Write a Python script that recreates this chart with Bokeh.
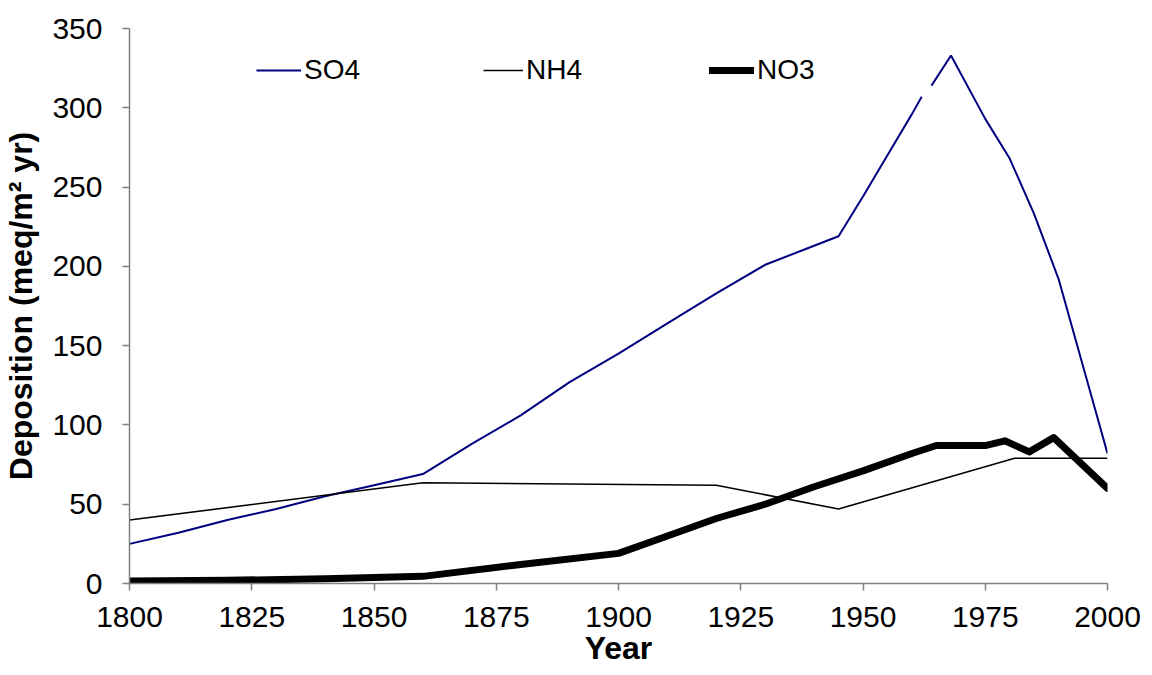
import math
from bokeh.plotting import figure
from bokeh.models import Range1d, SingleIntervalTicker, Legend, LegendItem
from bokeh.embed import file_html
from bokeh.resources import INLINE

# ---- data ----
so4_year = [1800, 1810, 1820, 1830, 1840, 1850, 1860, 1870, 1880, 1890, 1900,
            1910, 1920, 1930, 1940, 1945, 1950, 1955, 1960, 1962, 1963, 1964,
            1968, 1975, 1980, 1985, 1990, 1995, 2000]
so4_val = [25, 32, 40, 47, 55, 62, 69, 88, 106, 127, 145,
           164, 183, 201, 213, 219, 244, 270, 296, 307, float("nan"), 314,
           333, 293, 268, 233, 192, 137, 82]

nh4_year = [1800, 1860, 1920, 1945, 1981, 2000]
nh4_val = [40, 63.5, 62, 47, 79, 79]

no3_year = [1800, 1820, 1840, 1860, 1880, 1900, 1910, 1920, 1930, 1940, 1950,
            1960, 1965, 1975, 1979, 1984, 1989, 2000]
no3_val = [1.5, 2, 3, 4.5, 12, 19, 30, 41, 50, 61, 71,
           82, 87, 87, 90, 83, 92, 60]

series_names = ["SO4", "NH4", "NO3"]
x_title = "Year"
y_title = "Deposition (meq/m² yr)"
x_ticks_interval = 25
y_ticks_interval = 50

FONT = "Liberation Sans"

p = figure(width=1152, height=675, output_backend="svg", toolbar_location=None,
           x_range=Range1d(1800, 2000), y_range=Range1d(0, 350),
           min_border_left=128, min_border_right=45, min_border_top=28,
           min_border_bottom=92)
p.outline_line_color = None
p.xgrid.grid_line_color = None
p.ygrid.grid_line_color = None
p.background_fill_color = "white"
p.border_fill_color = "white"

p.xaxis.ticker = SingleIntervalTicker(interval=x_ticks_interval)
p.yaxis.ticker = SingleIntervalTicker(interval=y_ticks_interval)

for ax in (p.xaxis[0], p.yaxis[0]):
    ax.axis_line_color = "#808080"
    ax.axis_line_width = 1.5
    ax.major_tick_line_color = "#808080"
    ax.major_tick_line_width = 1.5
    ax.major_tick_in = 0
    ax.major_tick_out = 7
    ax.minor_tick_line_color = None
    ax.major_label_text_font = FONT
    ax.major_label_text_font_size = "30px"
    ax.major_label_text_color = "black"
    ax.axis_label_text_font = FONT
    ax.axis_label_text_font_size = "32px"
    ax.axis_label_text_font_style = "bold"
    ax.axis_label_text_color = "black"

p.xaxis.axis_label = x_title
p.yaxis.axis_label = y_title
p.xaxis.major_label_standoff = 16
p.xaxis.axis_label_standoff = 0
p.yaxis.major_label_standoff = 20
p.yaxis.axis_label_standoff = 10

r_so4 = p.line(so4_year, so4_val, line_color="#000080", line_width=2)
r_nh4 = p.line(nh4_year, nh4_val, line_color="black", line_width=1.6)
r_no3 = p.line(no3_year, no3_val, line_color="black", line_width=7,
               line_cap="round", line_join="round")

def add_leg(name, r, x, gw):
    lg = Legend(items=[LegendItem(label=name, renderers=[r])],
                location=(x, 497), orientation="horizontal",
                padding=0, margin=0, spacing=0,
                glyph_width=gw, glyph_height=30, label_height=30,
                label_standoff=3,
                label_text_font=FONT, label_text_font_size="28px",
                label_text_color="black",
                border_line_color=None, background_fill_alpha=0)
    p.add_layout(lg, "center")

add_leg(series_names[0], r_so4, 127, 45)
add_leg(series_names[1], r_nh4, 354, 40)
add_leg(series_names[2], r_no3, 580, 45)

open("out.html", "w").write(file_html(p, INLINE))
